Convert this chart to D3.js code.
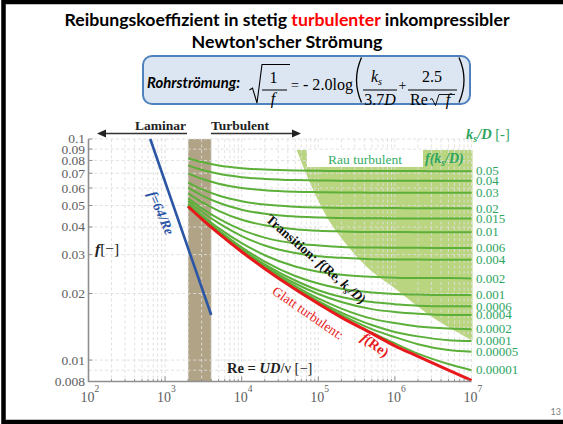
<!DOCTYPE html>
<html><head><meta charset="utf-8">
<script src="https://cdn.jsdelivr.net/npm/d3@7"></script>
<style>body{margin:0;background:#fff;} svg{display:block;}</style>
</head><body>
<script>
// ---------------- DATA ----------------
const reynolds = [2000, 3000, 5000, 10000, 20000, 50000, 100000, 200000, 500000, 1000000, 2000000, 5000000, 10000000];
const roughLabels = ["0.05","0.04","0.03","0.02","0.015","0.01","0.006","0.004","0.002","0.001","0.0006","0.0004","0.0002","0.0001","0.00005","0.00001"];
const f_0_05    = [0.0819, 0.0787, 0.0759, 0.0738, 0.0727, 0.0720, 0.0718, 0.0717, 0.0716, 0.0716, 0.0716, 0.0715, 0.0715];
const f_0_04    = [0.0760, 0.0726, 0.0696, 0.0672, 0.0660, 0.0652, 0.0649, 0.0648, 0.0647, 0.0647, 0.0647, 0.0647, 0.0647];
const f_0_03    = [0.0699, 0.0661, 0.0628, 0.0601, 0.0587, 0.0578, 0.0575, 0.0573, 0.0572, 0.0572, 0.0572, 0.0572, 0.0572];
const f_0_02    = [0.0635, 0.0593, 0.0555, 0.0523, 0.0505, 0.0494, 0.0490, 0.0488, 0.0487, 0.0487, 0.0486, 0.0486, 0.0486];
const f_0_015   = [0.0602, 0.0556, 0.0515, 0.0479, 0.0459, 0.0446, 0.0442, 0.0439, 0.0438, 0.0437, 0.0437, 0.0437, 0.0437];
const f_0_01    = [0.0568, 0.0519, 0.0473, 0.0431, 0.0407, 0.0391, 0.0385, 0.0382, 0.0380, 0.0380, 0.0379, 0.0379, 0.0379];
const f_0_006   = [0.0539, 0.0487, 0.0436, 0.0388, 0.0358, 0.0337, 0.0330, 0.0325, 0.0323, 0.0322, 0.0322, 0.0321, 0.0321];
const f_0_004   = [0.0525, 0.0470, 0.0416, 0.0364, 0.0330, 0.0305, 0.0295, 0.0290, 0.0286, 0.0285, 0.0285, 0.0284, 0.0284];
const f_0_002   = [0.0510, 0.0453, 0.0395, 0.0338, 0.0298, 0.0265, 0.0251, 0.0243, 0.0238, 0.0236, 0.0235, 0.0235, 0.0234];
const f_0_001   = [0.0502, 0.0444, 0.0385, 0.0324, 0.0279, 0.0240, 0.0222, 0.0210, 0.0202, 0.0199, 0.0198, 0.0197, 0.0197];
const f_0_0006  = [0.0499, 0.0441, 0.0381, 0.0318, 0.0271, 0.0229, 0.0207, 0.0193, 0.0183, 0.0179, 0.0176, 0.0175, 0.0175];
const f_0_0004  = [0.0497, 0.0439, 0.0378, 0.0315, 0.0267, 0.0222, 0.0199, 0.0183, 0.0170, 0.0165, 0.0162, 0.0160, 0.0160];
const f_0_0002  = [0.0496, 0.0437, 0.0376, 0.0312, 0.0263, 0.0216, 0.0190, 0.0171, 0.0154, 0.0147, 0.0142, 0.0139, 0.0138];
const f_0_0001  = [0.0495, 0.0436, 0.0375, 0.0310, 0.0261, 0.0212, 0.0185, 0.0164, 0.0144, 0.0134, 0.0128, 0.0123, 0.0122];
const f_0_00005 = [0.0495, 0.0436, 0.0375, 0.0310, 0.0260, 0.0211, 0.0183, 0.0160, 0.0138, 0.0127, 0.0118, 0.0111, 0.0109];
const f_0_00001 = [0.0495, 0.0435, 0.0374, 0.0309, 0.0259, 0.0209, 0.0180, 0.0157, 0.0133, 0.0119, 0.0107, 0.0096, 0.0090];
const fSmooth   = [0.0495, 0.0435, 0.0374, 0.0309, 0.0259, 0.0209, 0.0180, 0.0156, 0.0132, 0.0116, 0.0104, 0.0090, 0.0081];
const roughSeries = [f_0_05, f_0_04, f_0_03, f_0_02, f_0_015, f_0_01, f_0_006, f_0_004, f_0_002, f_0_001, f_0_0006, f_0_0004, f_0_0002, f_0_0001, f_0_00005, f_0_00001];
const laminarRe = [640, 4000];
const laminarF  = [0.1, 0.016];
const bandRe = [2000, 4000];
const rauBoundaryRe = [52240, 78000, 128800, 235000, 473000, 1055000, 2600000, 5735000, 10000000];
const rauBoundaryF  = [0.0892, 0.0632, 0.0445, 0.0332, 0.0256, 0.0208, 0.0163, 0.0137, 0.0123];
const rauTopF = 0.0892;
const yTicks = [0.1, 0.09, 0.08, 0.07, 0.06, 0.05, 0.04, 0.03, 0.02, 0.01, 0.008];
const yTickLabels = ["0.1","0.09","0.08","0.07","0.06","0.05","0.04","0.03","0.02","0.01","0.008"];
const yGrid = [0.009, 0.01, 0.02, 0.03, 0.04, 0.05, 0.06, 0.07, 0.08, 0.09, 0.1];
const xTickExps = [2, 3, 4, 5, 6, 7];

// ---------------- SETUP ----------------
const W = 563, H = 424;
const svg = d3.select("body").append("svg").attr("width", W).attr("height", H);
svg.append("rect").attr("width", W).attr("height", H).attr("fill", "#fff");
svg.append("rect").attr("x", 3.5).attr("y", 2).attr("width", 620).attr("height", 420)
  .attr("fill", "none").attr("stroke", "#000").attr("stroke-width", 4.5);

const serif = "'Liberation Serif','Times New Roman',serif";
const sans = "Lato,'Open Sans',sans-serif";

function fit(sel, target) {
  const n = sel.node(); const len = n.getComputedTextLength();
  const fs = parseFloat(sel.attr("font-size"));
  sel.attr("font-size", (fs * target / len).toFixed(2));
}

// Title
const t1 = svg.append("text").attr("x", 287).attr("y", 26).attr("text-anchor", "middle")
  .attr("font-family", sans).attr("font-weight", "bold").attr("font-size", 17).attr("fill", "#000");
t1.append("tspan").text("Reibungskoeffizient in stetig ");
t1.append("tspan").attr("fill", "#ff0000").text("turbulenter");
t1.append("tspan").text(" inkompressibler");
fit(t1, 445);
const t2 = svg.append("text").attr("x", 287).attr("y", 48).attr("text-anchor", "middle")
  .attr("font-family", sans).attr("font-weight", "bold").attr("font-size", 17).attr("fill", "#000")
  .text("Newton'scher Strömung");
fit(t2, 191);

// Formula box
const fb = svg.append("g");
fb.append("rect").attr("x", 143).attr("y", 56).attr("width", 327).attr("height", 48).attr("rx", 9)
  .attr("fill", "#dce6f2").attr("stroke", "#4f81bd").attr("stroke-width", 2);
const rs = fb.append("text").attr("x", 147).attr("y", 88).attr("font-family", sans)
  .attr("font-weight", "bold").attr("font-style", "italic").attr("font-size", 14).text("Rohrströmung:");
fit(rs, 93);
const mt = (x, y, s, opts = {}) => {
  const t = fb.append("text").attr("x", x).attr("y", y).attr("font-family", serif)
    .attr("font-size", opts.fs || 16).attr("fill", "#000").attr("text-anchor", opts.anchor || "middle")
    .attr("font-style", opts.italic ? "italic" : "normal").text(s);
  return t;
};
const stroke = (d, w) => fb.append("path").attr("d", d).attr("fill", "none").attr("stroke", "#000").attr("stroke-width", w || 1);
// sqrt(1/f)
stroke("M249.5,90 L252.5,88 L257,103 L262,64.5 L290,64.5", 1.1);
mt(273.5, 83, "1");
stroke("M262,90 L287,90", 1);
mt(273, 103.5, "f", {italic: true});
mt(295, 90, "=", {fs: 14});
const lg = mt(303, 90, "- 2.0log", {anchor: "start"});
fit(lg, 50);
// big parens
stroke("M361.5,57.5 Q351.5,80 361.5,102.5", 1.3);
stroke("M459,57.5 Q469,80 459,102.5", 1.3);
const ks = mt(371, 82, "k", {italic: true, anchor: "start"});
ks.append("tspan").attr("font-size", 10).attr("dy", 3).text("s");
stroke("M363,90 L397,90", 1);
const d37 = mt(380, 104.5, "");
d37.append("tspan").text("3.7");
d37.append("tspan").attr("font-style", "italic").text("D");
mt(402.5, 90, "+", {fs: 14});
mt(432, 82, "2.5");
stroke("M408,90 L457,90", 1);
mt(410, 104.5, "Re", {anchor: "start"});
stroke("M430,99.5 L432,98.5 L435.5,105.5 L439,94.5 L455,94.5", 0.9);
mt(448, 104.5, "f", {italic: true});

// ---------------- CHART ----------------
const x = d3.scaleLog().domain([100, 1e7]).range([88.5, 471.5]);
const y = d3.scaleLog().domain([0.008, 0.1]).range([381.5, 139]);
const x0 = x(100), x1 = x(1e7), y0 = y(0.008), yTop = y(0.1);

// transition band
svg.append("rect").attr("x", x(bandRe[0])).attr("y", yTop).attr("width", x(bandRe[1]) - x(bandRe[0]))
  .attr("height", y0 - yTop).attr("fill", "#b1a385");

// rough region
const bpts = rauBoundaryRe.map((r, i) => [x(r), y(rauBoundaryF[i])]);
const bline = d3.line().curve(d3.curveMonotoneX)(bpts);
svg.append("path").attr("d", bline + `L${x(1e7) + 1},${y(rauBoundaryF[rauBoundaryF.length-1])}L${x(1e7) + 1},${y(rauTopF)}Z`)
  .attr("fill", "#bad57f");

// grid
const gridG = svg.append("g").attr("stroke", "#dedede").attr("stroke-width", 0.9).attr("stroke-dasharray", "3,2.5");
const vgrid = [];
for (let e = 2; e <= 6; e++) for (let k = 1; k <= 9; k++) vgrid.push(k * Math.pow(10, e));
vgrid.push(1e7);
gridG.selectAll("line.v").data(vgrid.filter(v => v > 100)).enter().append("line")
  .attr("x1", d => x(d)).attr("x2", d => x(d)).attr("y1", yTop).attr("y2", y0);
gridG.selectAll("line.h").data(yGrid).enter().append("line")
  .attr("x1", x0).attr("x2", x1).attr("y1", d => y(d)).attr("y2", d => y(d));

// white label box in rough region
svg.append("rect").attr("x", 307).attr("y", y(rauTopF)).attr("width", 116).attr("height", 17).attr("fill", "#fff");

// curves
const line = d3.line().x(d => x(d[0])).y(d => y(d[1])).curve(d3.curveMonotoneX);
svg.append("g").selectAll("path").data(roughSeries).enter().append("path")
  .attr("d", s => line(reynolds.map((r, i) => [r, s[i]])))
  .attr("fill", "none").attr("stroke", "#5cb03a").attr("stroke-width", 2);
svg.append("path").attr("d", line(reynolds.map((r, i) => [r, fSmooth[i]])))
  .attr("fill", "none").attr("stroke", "#e8191c").attr("stroke-width", 3);
svg.append("path").attr("d", d3.line().x(d => x(d[0])).y(d => y(d[1]))(laminarRe.map((r, i) => [r, laminarF[i]])))
  .attr("fill", "none").attr("stroke", "#2b55a5").attr("stroke-width", 2.6);

// axes
const axG = svg.append("g").attr("stroke", "#8f8f8f");
axG.append("path").attr("d", `M${x0},${yTop}V${y0}H${x1}`).attr("fill", "none").attr("stroke-width", 1.6);
axG.selectAll("line.yt").data(yTicks).enter().append("line")
  .attr("x1", x0).attr("x2", x0 + 4).attr("y1", d => y(d)).attr("y2", d => y(d)).attr("stroke-width", 1);
axG.selectAll("line.xm").data(vgrid.filter(v => v > 100 && v < 1e7)).enter().append("line")
  .attr("x1", d => x(d)).attr("x2", d => x(d)).attr("y1", y0).attr("y2", d => {
    const l = Math.log10(d); return y0 - (Math.abs(l - Math.round(l)) < 1e-6 ? 5 : 2.5); })
  .attr("stroke-width", 1);

// y tick labels
svg.append("g").selectAll("text").data(yTicks).enter().append("text")
  .attr("x", 85).attr("y", d => y(d)).attr("dy", "0.33em").attr("text-anchor", "end")
  .attr("font-family", serif).attr("font-size", 13.5).attr("fill", "#606060")
  .text((d, i) => yTickLabels[i]);
// x tick labels
const xl = svg.append("g").attr("font-family", serif).attr("fill", "#606060");
xl.selectAll("text.b").data(xTickExps).enter().append("text")
  .attr("x", d => x(Math.pow(10, d)) - 1).attr("y", 402).attr("text-anchor", "middle").attr("font-size", 14).text("10");
xl.selectAll("text.e").data(xTickExps).enter().append("text")
  .attr("x", d => x(Math.pow(10, d)) + 6).attr("y", 392).attr("font-size", 9.5).text(d => d);

// right roughness labels
svg.append("g").selectAll("text").data(roughSeries).enter().append("text")
  .attr("x", 476).attr("y", s => y(s[s.length - 1])).attr("dy", "0.33em")
  .attr("font-family", serif).attr("font-size", 13).attr("fill", "#2ea55f")
  .text((s, i) => roughLabels[i]);

// header k_s/D [-]
const kh = svg.append("text").attr("x", 466).attr("y", 139).attr("font-family", serif).attr("font-size", 14.5).attr("fill", "#2ea55f");
kh.append("tspan").attr("font-weight", "bold").attr("font-style", "italic").text("k");
kh.append("tspan").attr("font-weight", "bold").attr("font-style", "italic").attr("font-size", 10).attr("dy", 3).text("s");
kh.append("tspan").attr("font-weight", "bold").attr("font-style", "italic").attr("dy", -3).text("/D");
kh.append("tspan").text(" [-]");

// Rau turbulent labels
svg.append("text").attr("x", 365).attr("y", 164).attr("text-anchor", "middle").attr("font-family", serif)
  .attr("font-size", 13.5).attr("fill", "#37ad69").text("Rau turbulent");
const fk = svg.append("text").attr("x", 425).attr("y", 163).attr("font-family", serif).attr("font-size", 14)
  .attr("font-weight", "bold").attr("font-style", "italic").attr("fill", "#2ea55f");
fk.append("tspan").text("f(k");
fk.append("tspan").attr("font-size", 9.5).attr("dy", 3).text("s");
fk.append("tspan").attr("dy", -3).text("/D)");

// Laminar / Turbulent labels with arrows
const lt = svg.append("g").attr("font-family", serif).attr("font-weight", "bold").attr("font-size", 13.5).attr("fill", "#222");
lt.append("text").attr("x", 186).attr("y", 130).attr("text-anchor", "end").text("Laminar");
lt.append("text").attr("x", 211).attr("y", 130).text("Turbulent");
svg.append("path").attr("d", "M187,133.5 H104").attr("stroke", "#333").attr("stroke-width", 1.4);
svg.append("path").attr("d", "M97,133.5 L106,129.5 L106,137.5 Z").attr("fill", "#222");
svg.append("path").attr("d", "M211,133.5 H294").attr("stroke", "#333").attr("stroke-width", 1.4);
svg.append("path").attr("d", "M301,133.5 L292,129.5 L292,137.5 Z").attr("fill", "#222");

// f=64/Re label
svg.append("text").attr("transform", "translate(161,213) rotate(66)").attr("text-anchor", "middle").attr("dy", "0.33em")
  .attr("font-family", serif).attr("font-weight", "bold").attr("font-style", "italic").attr("font-size", 14)
  .attr("fill", "#2b55a5").text("f=64/Re");

// Transition label
const tr = svg.append("text").attr("transform", "translate(316,259) rotate(41)").attr("text-anchor", "middle").attr("dy", "0.33em")
  .attr("font-family", serif).attr("font-weight", "bold").attr("font-size", 13.5).attr("fill", "#111");
tr.append("tspan").text("Transition: ");
tr.append("tspan").attr("font-style", "italic").text("f");
tr.append("tspan").text("(Re, ");
tr.append("tspan").attr("font-style", "italic").text("k");
tr.append("tspan").attr("font-style", "italic").attr("font-size", 9.5).attr("dy", 3).text("s");
tr.append("tspan").attr("font-style", "italic").attr("dy", -3).text("/D");
tr.append("tspan").text(")");

// Glatt turbulent labels
svg.append("text").attr("transform", "translate(308,313) rotate(34.5)").attr("text-anchor", "middle").attr("dy", "0.33em")
  .attr("font-family", serif).attr("font-size", 13.5).attr("fill", "#e8191c").text("Glatt turbulent:");
const fre = svg.append("text").attr("transform", "translate(375,345) rotate(36.5)").attr("text-anchor", "middle").attr("dy", "0.33em")
  .attr("font-family", serif).attr("font-weight", "bold").attr("font-size", 14).attr("fill", "#e8191c");
fre.append("tspan").attr("font-style", "italic").text("f");
fre.append("tspan").text("(Re)");

// axis labels
const xlab = svg.append("text").attr("x", 227).attr("y", 373).attr("font-family", serif).attr("font-size", 14.5).attr("fill", "#222");
xlab.append("tspan").attr("font-weight", "bold").text("Re = ");
xlab.append("tspan").attr("font-weight", "bold").attr("font-style", "italic").text("UD");
xlab.append("tspan").text("/ν [−]");
const ylab = svg.append("text").attr("x", 95).attr("y", 254).attr("font-family", serif).attr("font-size", 15.5).attr("fill", "#222");
ylab.append("tspan").attr("font-weight", "bold").attr("font-style", "italic").text("f");
ylab.append("tspan").text("[−]");

// page number
svg.append("text").attr("x", 561).attr("y", 415).attr("text-anchor", "end").attr("font-family", sans)
  .attr("font-size", 9).attr("fill", "#808080").text("13");
</script>
</body></html>
